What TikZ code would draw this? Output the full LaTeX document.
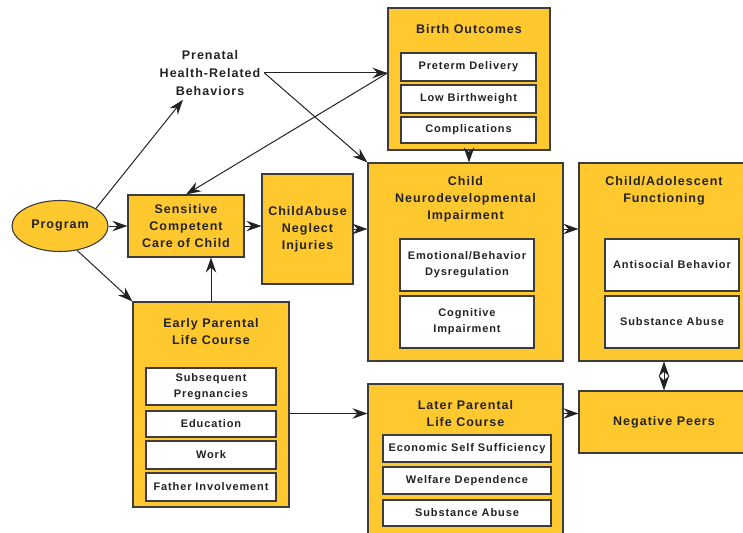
\documentclass[tikz,border=0pt]{standalone}
\usepackage{fontspec}
\setmainfont{Liberation Sans}[LetterSpace=8]
\usetikzlibrary{arrows.meta,shapes.geometric,calc}
\definecolor{boxfill}{RGB}{254,200,46}
\definecolor{edge}{RGB}{60,60,60}
\definecolor{ink}{RGB}{35,35,35}
\begin{document}
\begin{tikzpicture}[x=1pt,y=-1pt,
  >={Stealth[length=15pt,width=10.5pt,inset=5pt]},
  outer/.style={draw=edge, line width=1.1pt, fill=boxfill, inner sep=0pt, align=center,
    font=\fontsize{12.5}{17}\selectfont\bfseries, text=ink},
  inner/.style={draw=edge, line width=1.1pt, fill=white, inner sep=0pt, align=center,
    font=\fontsize{11}{16}\selectfont\bfseries, text=ink},
  title/.style={inner sep=0pt, align=center, font=\fontsize{12.5}{17}\selectfont\bfseries, text=ink},
  conn/.style={draw=ink, line width=1pt, ->}]
\useasboundingbox (0,0) rectangle (743,532);

% Birth Outcomes
\node[outer, minimum width=162pt, minimum height=142pt] (bo) at (469,79) {};
\node[title] (bot) at (469,29) {Birth Outcomes};
\node[inner, minimum width=135pt, minimum height=28pt] (b1) at (468.5,67) {Preterm Delivery};
\node[inner, minimum width=135pt, minimum height=28pt] (b2) at (468.5,99) {Low Birthweight};
\node[inner, minimum width=135pt, minimum height=26pt] (b3) at (468.5,130) {Complications};

% Child Neurodevelopmental Impairment
\node[outer, minimum width=195pt, minimum height=198pt] (cn) at (465.5,262) {};
\node[title] (cnt) at (465.5,199) {Child\\Neurodevelopmental\\Impairment};
\node[inner, minimum width=134pt, minimum height=52pt] (c1) at (467,265) {Emotional/Behavior\\Dysregulation};
\node[inner, minimum width=134pt, minimum height=52pt] (c2) at (467,322) {Cognitive\\Impairment};

% Child/Adolescent Functioning
\node[outer, minimum width=170pt, minimum height=198pt] (ca) at (664,262) {};
\node[title] (cat) at (664,190.5) {Child/Adolescent\\Functioning};
\node[inner, minimum width=134pt, minimum height=52pt] (a1) at (672,265) {Antisocial Behavior};
\node[inner, minimum width=134pt, minimum height=52pt] (a2) at (672,322) {Substance Abuse};

% Negative Peers
\node[outer, minimum width=170pt, minimum height=62pt] (np) at (664,422) {Negative Peers};

% Later Parental Life Course
\node[outer, minimum width=195pt, minimum height=161pt] (lp) at (465.5,464.5) {};
\node[title] (lpt) at (465.5,413.5) {Later Parental\\Life Course};
\node[inner, minimum width=168pt, minimum height=27pt] (l1) at (467,448.5) {Economic Self Sufficiency};
\node[inner, minimum width=168pt, minimum height=27pt] (l2) at (467,480.5) {Welfare Dependence};
\node[inner, minimum width=168pt, minimum height=26pt] (l3) at (467,513) {Substance Abuse};

% Early Parental Life Course
\node[outer, minimum width=156pt, minimum height=205pt] (ep) at (211,404.5) {};
\node[title] (ept) at (211,331.5) {Early Parental\\Life Course};
\node[inner, minimum width=130pt, minimum height=37pt] (e1) at (211,386.5) {Subsequent\\Pregnancies};
\node[inner, minimum width=130pt, minimum height=26pt] (e2) at (211,424) {Education};
\node[inner, minimum width=130pt, minimum height=28pt] (e3) at (211,455) {Work};
\node[inner, minimum width=130pt, minimum height=28pt] (e4) at (211,487) {Father Involvement};

% Program
\node[outer, ellipse, minimum width=96pt, minimum height=51pt] (prog) at (60,226) {Program};

% Sensitive Competent Care
\node[outer, minimum width=116pt, minimum height=62pt] (sc) at (186,226) {Sensitive\\Competent\\Care of Child};

% Child Abuse
\node[outer, minimum width=91pt, minimum height=110pt] (ab) at (307.5,229) {ChildAbuse\\Neglect\\Injuries};

% Prenatal
\node[title, inner sep=4pt, font=\fontsize{12.5}{18}\selectfont\bfseries] (pre) at (210,73) {Prenatal\\Health-Related\\Behaviors};

% Connectors
\draw[conn] (prog) -- (sc);
\draw[conn] (sc.east) -- (sc.east -| ab.west);
\draw[conn] (ab.east) -- (ab.east -| cn.west);
\draw[conn] (cn.east |- ab.east) -- (ca.west |- ab.east);
\draw[conn] (ep.east |- lpt) -- (lp.west |- lpt);
\draw[conn] (lp.east |- lpt) -- (np.west |- lpt);
\draw[conn, <->] (ca.south) -- (np.north);
\draw[conn] (bo.south) -- (bo.south |- cn.north);
\draw[conn] (ep.north) -- (ep.north |- sc.south);
\draw[conn] (prog.-55) -- (ep.north west);
\draw[conn] (prog.26) -- ([xshift=-27pt]pre.south);
\draw[conn] (pre.east) -- (pre.east -| bo.west);
\draw[conn] (pre.east) -- (cn.north west);
\draw[conn] (pre.east -| bo.west) -- (sc.north);
\end{tikzpicture}
\end{document}
